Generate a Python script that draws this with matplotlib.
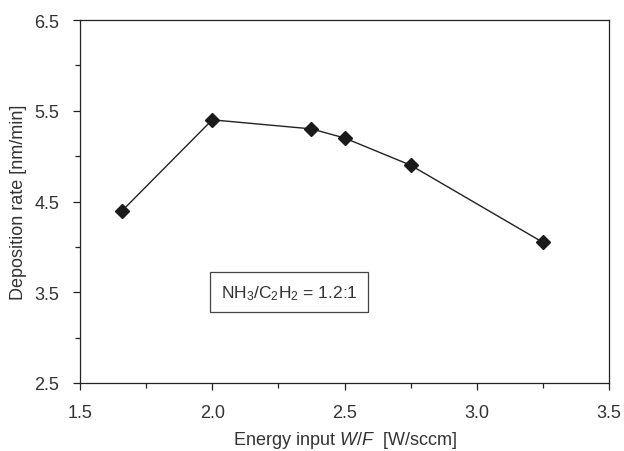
import matplotlib
matplotlib.use("Agg")
import matplotlib.pyplot as plt
from matplotlib.ticker import MultipleLocator

plt.rcParams['font.family'] = ['Liberation Sans', 'DejaVu Sans']
plt.rcParams['mathtext.fontset'] = 'custom'
plt.rcParams['mathtext.rm'] = 'Liberation Sans'
plt.rcParams['mathtext.it'] = 'Liberation Sans:italic'

energy_input = [1.66, 2.0, 2.375, 2.5, 2.75, 3.25]
deposition_rate = [4.4, 5.4, 5.3, 5.2, 4.9, 4.05]

x_ticks = [1.5, 2.0, 2.5, 3.0, 3.5]
y_ticks = [2.5, 3.5, 4.5, 5.5, 6.5]

textc = '#333333'
linec = '#222222'

fig = plt.figure(figsize=(6.24, 4.52), dpi=100)
ax = fig.add_axes([80/624, 1-384/452, (609-80)/624, (384-21)/452])

ax.plot(energy_input, deposition_rate, color=linec, lw=1.0, marker='D',
        markersize=7.5, markerfacecolor='#1a1a1a', markeredgecolor='#1a1a1a')

ax.set_xlim(1.5, 3.5)
ax.set_ylim(2.5, 6.5)
ax.set_xticks(x_ticks)
ax.set_xticklabels([f'{v:.1f}' for v in x_ticks])
ax.set_yticks(y_ticks)
ax.set_yticklabels([f'{v:.1f}' for v in y_ticks])
ax.xaxis.set_minor_locator(MultipleLocator(0.25))
ax.yaxis.set_minor_locator(MultipleLocator(0.5))
ax.tick_params(which='both', direction='out', top=False, right=False,
               colors=linec, labelcolor=textc, labelsize=13, width=0.9)
ax.tick_params(which='major', length=5, pad=10)
ax.tick_params(which='minor', length=3.5)
for s in ax.spines.values():
    s.set_color(linec)
    s.set_linewidth(0.9)

ax.set_xlabel(r'Energy input $\mathit{W/F}$  [W/sccm]', fontsize=13, color=textc, labelpad=6)
ax.set_ylabel('Deposition rate [nm/min]', fontsize=13, color=textc, labelpad=5)

ax.text(2.29, 3.5, r'NH$_3$/C$_2$H$_2$ = 1.2:1', fontsize=12.5, color=textc,
        ha='center', va='center',
        bbox=dict(boxstyle='square,pad=0.6', facecolor='white', edgecolor='#444444', lw=0.9))

fig.savefig('out.png', dpi=100)
